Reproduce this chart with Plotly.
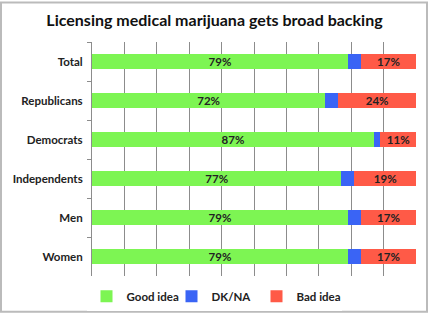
import plotly.graph_objects as go

categories = ["Total", "Republicans", "Democrats", "Independents", "Men", "Women"]
good_idea = [79, 72, 87, 77, 79, 79]
dk_na = [4, 4, 2, 4, 4, 4]
bad_idea = [17, 24, 11, 19, 17, 17]

series = [
    ("Good idea", good_idea, "#7DF553", True),
    ("DK/NA", dk_na, "#3A64F5", False),
    ("Bad idea", bad_idea, "#FF5A47", True),
]

FONT = "Lato, 'Open Sans', sans-serif"

fig = go.Figure()
for name, vals, color, show_text in series:
    fig.add_trace(go.Bar(
        name=f"<b>{name}</b>",
        y=[f"<b>{c}</b>" for c in categories],
        x=vals,
        orientation="h",
        marker=dict(color=color, line=dict(width=0)),
        text=[f"<b>{v}%</b>" for v in vals] if show_text else None,
        textposition="inside" if show_text else "none",
        insidetextanchor="middle",
        constraintext="none",
        textfont=dict(family=FONT, size=11.5, color="#222222"),
        hoverinfo="skip",
    ))

L, R, T, B = 92, 13, 42, 38
W, H = 429, 323
pw, ph = W - L - R, H - T - B

def px_x(x):
    return (x - L) / pw

def px_y(y):
    return (H - B - y) / ph

fig.update_layout(
    width=W, height=H,
    margin=dict(l=L, r=R, t=T, b=B),
    barmode="stack",
    bargap=0.6,
    paper_bgcolor="white",
    plot_bgcolor="white",
    font=dict(family=FONT, color="#222222"),
    title=dict(
        text="<b>Licensing medical marijuana gets broad backing</b>",
        x=0.5, xref="container", xanchor="center",
        y=1 - 20 / H, yanchor="middle",
        font=dict(family=FONT, size=16, color="#111111"),
    ),
    showlegend=True,
    legend=dict(
        orientation="h",
        x=px_x(214), xanchor="center",
        y=px_y(306), yanchor="middle",
        font=dict(family=FONT, size=11.5, color="#222222"),
        traceorder="normal",
        itemwidth=30,
        entrywidth=40,
        entrywidthmode="pixels",
    ),
)

fig.update_xaxes(
    range=[0, 100],
    dtick=10,
    showgrid=True,
    gridcolor="#8C8C8C",
    gridwidth=1,
    showticklabels=False,
    zeroline=False,
    showline=False,
    fixedrange=True,
)
fig.update_yaxes(
    autorange="reversed",
    showline=True,
    linecolor="#8C8C8C",
    linewidth=1,
    ticks="outside",
    ticklen=4,
    tickcolor="#8C8C8C",
    tickson="boundaries",
    tickfont=dict(family=FONT, size=11.5, color="#222222"),
    ticklabelstandoff=6,
    showgrid=False,
    fixedrange=True,
)

fig.add_shape(
    type="rect", xref="paper", yref="paper",
    x0=px_x(1), x1=px_x(427), y0=px_y(322), y1=px_y(1),
    line=dict(color="#BBBBBB", width=2),
    fillcolor="rgba(0,0,0,0)",
    layer="above",
)

fig.write_html("out.html")
